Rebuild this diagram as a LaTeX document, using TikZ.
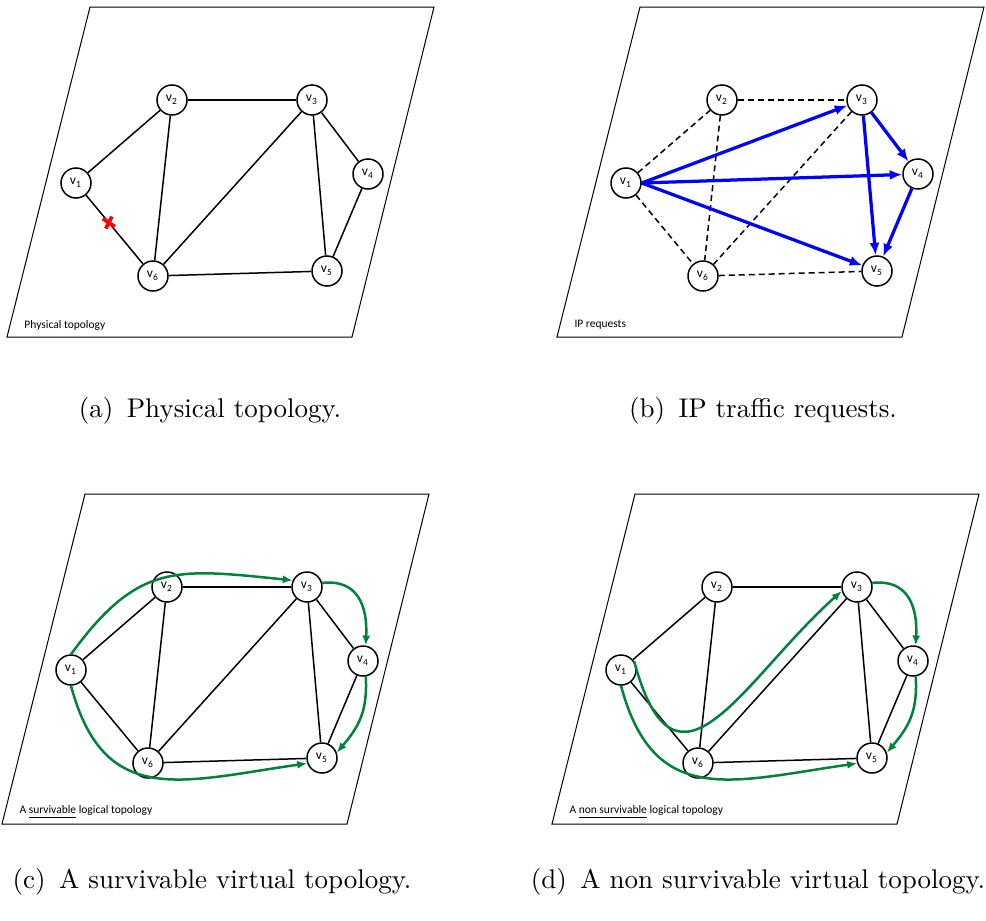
\documentclass[tikz,border=0pt]{standalone}
\usepackage{fontspec}
\usetikzlibrary{arrows.meta}
\newfontfamily\carlito{Carlito}
\definecolor{lpgreen}{RGB}{0,130,60}

\newcommand{\plane}[1]{%
	\draw[frame] (90,7) -- (434,7) -- (352,337) -- (7,337) -- cycle;
	\node[vtx] (#1-1) at (76,183) {v\textsubscript{1}};
	\node[vtx] (#1-2) at (172,100) {v\textsubscript{2}};
	\node[vtx] (#1-3) at (312,100) {v\textsubscript{3}};
	\node[vtx] (#1-4) at (368,174) {v\textsubscript{4}};
	\node[vtx] (#1-5) at (327,271) {v\textsubscript{5}};
	\node[vtx] (#1-6) at (153,276) {v\textsubscript{6}};
}
\newcommand{\fibres}[1]{%
	\draw[link] (#1-1) -- (#1-2);
	\draw[link] (#1-1) -- (#1-6);
	\draw[link] (#1-2) -- (#1-3);
	\draw[link] (#1-2) -- (#1-6);
	\draw[link] (#1-3) -- (#1-6);
	\draw[link] (#1-3) -- (#1-4);
	\draw[link] (#1-3) -- (#1-5);
	\draw[link] (#1-4) -- (#1-5);
	\draw[link] (#1-6) -- (#1-5);
}

\begin{document}
\begin{tikzpicture}[x=0.4pt, y=-0.4pt,
	vtx/.style={circle, draw, line width=0.6pt, fill=white, minimum size=12pt, inner sep=0pt, font=\carlito\fontsize{5.4}{6}\selectfont},
	frame/.style={line width=0.4pt},
	link/.style={line width=0.6pt},
	request/.style={line width=0.6pt, dash pattern=on 2.4pt off 1.6pt},
	demand/.style={blue, line width=1.3pt, -{Latex[length=5pt,width=4pt]}},
	lightpath/.style={lpgreen, line width=1pt, -{Latex[length=4pt,width=3.2pt]}},
	cutmark/.style={red, line width=1.5pt},
	tag/.style={anchor=west, inner sep=0pt, font=\carlito\fontsize{4.6}{5}\selectfont},
	caption/.style={font=\fontsize{10.8}{13}\selectfont}]
	\useasboundingbox (0,0) rectangle (986,920);
	% (a) physical topology
	\plane{a}
	\fibres{a}
	\node[tag] (taga) at (24,325) {Physical topology};
	\path (a-1) -- (a-6) coordinate[pos=0.4] (cut);
	\draw[cutmark] (cut) +(-6,-4) -- +(6,4) (cut) +(-3,6) -- +(3,-6);
	% (b) IP requests
	\begin{scope}[shift={(550,0)}]
		\plane{b}
		\draw[request] (b-1) -- (b-2);
		\draw[request] (b-1) -- (b-6);
		\draw[request] (b-2) -- (b-3);
		\draw[request] (b-2) -- (b-6);
		\draw[request] (b-3) -- (b-6);
		\draw[request] (b-6) -- (b-5);
		\draw[demand] (b-1.east) -- (b-3);
		\draw[demand] (b-1.east) -- (b-4);
		\draw[demand] (b-1.east) -- (b-5);
		\draw[demand] (b-3) -- (b-4);
		\draw[demand] (b-3) -- (b-5);
		\draw[demand] (b-4) -- (b-5);
		\node[tag] (tagb) at (24,325) {IP requests};
	\end{scope}
	% (c) survivable
	\begin{scope}[shift={(-5,487)}]
		\plane{c}
		\fibres{c}
		\draw[lightpath] (c-1.north) .. controls +(67,-92) and +(-117,-12) .. (c-3.155);
		\draw[lightpath] (c-3.15) .. controls +(35,-4) and +(2,-40) .. (c-4.80);
		\draw[lightpath] (c-4.-80) .. controls +(2,35) and +(22,-26) .. (c-5.20);
		\draw[lightpath] (c-1.south) .. controls +(33,123) and +(-126,18) .. (c-5.200);
		\node[tag] (tagc) at (24,325) {A \underline{survivable} logical topology};
	\end{scope}
	% (d) non survivable
	\begin{scope}[shift={(545,487)}]
		\plane{d}
		\fibres{d}
		\draw[lightpath] (d-1.33) .. controls +(42,156) and +(-97,86) .. (d-3.195);
		\draw[lightpath] (d-3.15) .. controls +(35,-4) and +(2,-40) .. (d-4.80);
		\draw[lightpath] (d-4.-80) .. controls +(2,35) and +(22,-26) .. (d-5.20);
		\draw[lightpath] (d-1.south) .. controls +(33,123) and +(-126,18) .. (d-5.200);
		\node[tag] (tagd) at (24,325) {A \underline{non survivable} logical topology};
	\end{scope}
	% captions
	\node[caption] (capa) at (210,411) {(a)\enspace Physical topology.};
	\node[caption] (capb) at (763,411) {(b)\enspace IP traffic requests.};
	\node[caption] (capc) at (212,882) {(c)\enspace A survivable virtual topology.};
	\node[caption] (capd) at (758,882) {(d)\enspace A non survivable virtual topology.};
\end{tikzpicture}
\end{document}
